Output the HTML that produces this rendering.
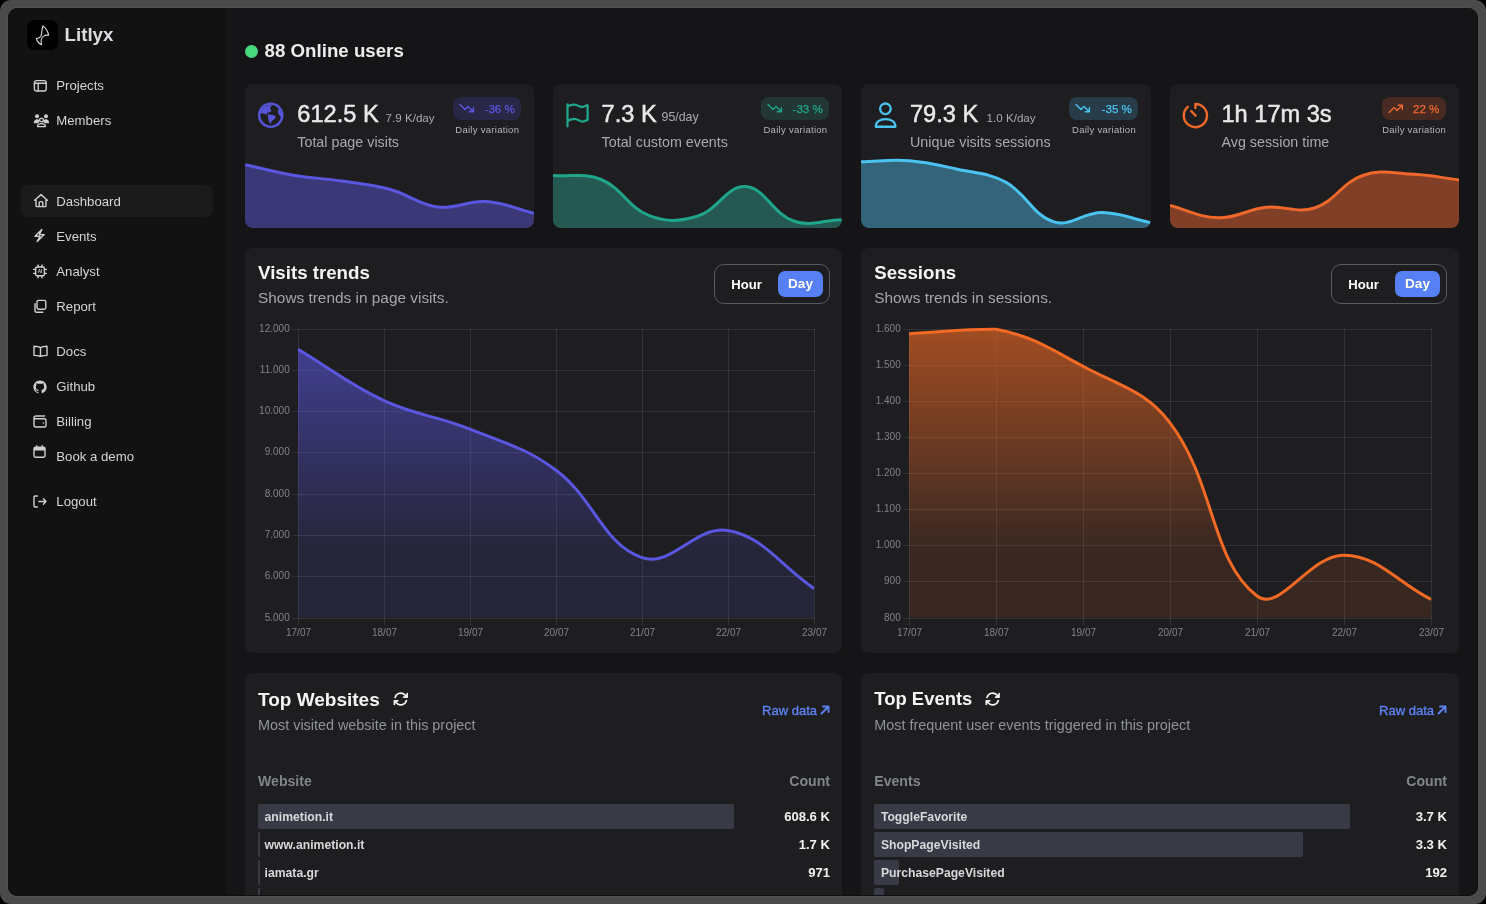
<!DOCTYPE html>
<html><head><meta charset="utf-8"><title>Litlyx</title><style>
*{box-sizing:border-box;margin:0;padding:0}
html,body{width:1486px;height:904px;overflow:hidden;background:#000;font-family:"Liberation Sans",sans-serif}
.frame{position:absolute;left:0;top:0;width:1486px;height:904px;background:#4a4a4a;border-radius:11px}
.inner{position:absolute;left:8px;top:8px;width:1470px;height:888px;border-radius:10px;overflow:hidden;background:#151517;box-shadow:0 0 0 1px #505050}
.edge{position:absolute;left:8px;top:8px;width:1470px;height:888px;border-radius:10px;box-shadow:inset 1px 0 #0f0f0f,inset -1px 0 #0f0f0f,inset 0 -1px #0f0f0f}
.pc{position:absolute;left:-8px;top:-8px;width:1486px;height:904px;will-change:transform}
.a{position:absolute;display:block}
.t{position:absolute;line-height:1;white-space:nowrap}
</style></head><body>
<div class="frame"></div>
<div class="inner"><div class="pc">
<div class="a" style="left:8px;top:8px;width:218px;height:888px;background:#121212;"></div>
<div class="a" style="left:27px;top:20px;width:31px;height:30px;background:#000;border-radius:7px;"></div>
<svg class="a" style="left:27px;top:20px;" width="31" height="30" viewBox="0 0 31 30" fill="none"><path d="M15.8 6.0 C18.4 7.6 20.8 11.2 21.7 15.2 C19.8 15.0 17.8 15.4 16.4 16.4 C15.2 17.2 14.4 18.4 14.2 20 C14 21.6 14.2 23.4 14.6 24.8 C12.4 24 10.4 21.8 9.3 18.5 C11 18.2 13 17.8 13.8 16.4 C14.8 14.4 14.8 9.6 15.8 6.0Z" stroke="#d6d6d6" stroke-width="1.1" stroke-linejoin="round"/></svg>
<div class="t" style="left:64.60px;top:25.57px;font-size:18.7px;font-weight:700;color:#dddde2;">Litlyx</div>
<div class="a" style="left:21px;top:185px;width:192px;height:32px;background:#1b1b1b;border-radius:7px;"></div>
<div class="t" style="left:56.30px;top:78.53px;font-size:13.2px;color:#d4d4d4;">Projects</div>
<div class="t" style="left:56.30px;top:113.53px;font-size:13.2px;color:#d4d4d4;">Members</div>
<div class="t" style="left:56.30px;top:195.03px;font-size:13.2px;color:#d4d4d4;">Dashboard</div>
<div class="t" style="left:56.30px;top:229.73px;font-size:13.2px;color:#d4d4d4;">Events</div>
<div class="t" style="left:56.30px;top:264.83px;font-size:13.2px;color:#d4d4d4;">Analyst</div>
<div class="t" style="left:56.30px;top:299.93px;font-size:13.2px;color:#d4d4d4;">Report</div>
<div class="t" style="left:56.30px;top:344.63px;font-size:13.2px;color:#d4d4d4;">Docs</div>
<div class="t" style="left:56.30px;top:380.13px;font-size:13.2px;color:#d4d4d4;">Github</div>
<div class="t" style="left:56.30px;top:415.23px;font-size:13.2px;color:#d4d4d4;">Billing</div>
<div class="t" style="left:56.30px;top:450.13px;font-size:13.2px;color:#d4d4d4;">Book a demo</div>
<div class="t" style="left:56.30px;top:494.83px;font-size:13.2px;color:#d4d4d4;">Logout</div>
<svg class="a" style="left:33px;top:79px;" width="15" height="14" viewBox="0 0 15 14" fill="none"><rect x="1.4" y="1.6" width="11.8" height="10.4" rx="2" stroke="#cfcfcf" stroke-width="1.4" stroke-linecap="round" stroke-linejoin="round"/><path d="M1.4 4.2H13.2M5.2 4.2V12" stroke="#cfcfcf" stroke-width="1.4" stroke-linecap="round" stroke-linejoin="round"/></svg>
<svg class="a" style="left:33px;top:113px;" width="17" height="15" viewBox="0 0 17 15" fill="none"><circle cx="4" cy="3.2" r="2" fill="#cfcfcf"/><circle cx="13" cy="3.2" r="2" fill="#cfcfcf"/><path d="M0.8 10.2C0.8 7.4 2.4 6.2 4 6.2C5.2 6.2 6 6.8 6.4 7.6L5.6 10.2Z" fill="#cfcfcf"/><path d="M16.2 10.2C16.2 7.4 14.6 6.2 13 6.2C11.8 6.2 11 6.8 10.6 7.6L11.4 10.2Z" fill="#cfcfcf"/><circle cx="8.5" cy="7" r="1.9" stroke="#cfcfcf" stroke-width="1.4" stroke-linecap="round" stroke-linejoin="round"/><path d="M4.6 13.6C4.6 11.6 6.4 10.6 8.5 10.6C10.6 10.6 12.4 11.6 12.4 13.6Z" stroke="#cfcfcf" stroke-width="1.4" stroke-linecap="round" stroke-linejoin="round"/></svg>
<svg class="a" style="left:33px;top:193px;" width="16" height="15" viewBox="0 0 16 15" fill="none"><path d="M1.6 7.2L8 1.6L14.4 7.2M3 6V12.8C3 13.3 3.3 13.6 3.8 13.6H12.2C12.7 13.6 13 13.3 13 12.8V6M6.2 13.6V9.6C6.2 9 6.6 8.6 7.2 8.6H8.8C9.4 8.6 9.8 9 9.8 9.6V13.6" stroke="#cfcfcf" stroke-width="1.4" stroke-linecap="round" stroke-linejoin="round"/></svg>
<svg class="a" style="left:33px;top:228px;" width="13" height="15" viewBox="0 0 13 15" fill="none"><path d="M8.8 1.4L2 8.2H7L4.2 13.6L11.2 6.6H6.4Z" stroke="#cfcfcf" stroke-width="1.4" stroke-linecap="round" stroke-linejoin="round"/></svg>
<svg class="a" style="left:33px;top:264px;" width="14" height="15" viewBox="0 0 14 15" fill="none"><rect x="2.6" y="3" width="8.8" height="8.8" rx="1.6" stroke="#cfcfcf" stroke-width="1.4" stroke-linecap="round" stroke-linejoin="round"/><path d="M0.6 5.4H2.6M0.6 9.4H2.6M11.4 5.4H13.4M11.4 9.4H13.4M5 1V3M9 1V3M5 11.8V13.8M9 11.8V13.8" stroke="#cfcfcf" stroke-width="1.4" stroke-linecap="round" stroke-linejoin="round"/><text x="7" y="9.4" font-size="4.6" font-weight="700" fill="#cfcfcf" text-anchor="middle" font-family="Liberation Sans">AI</text></svg>
<svg class="a" style="left:33px;top:299px;" width="14" height="15" viewBox="0 0 14 15" fill="none"><rect x="4" y="1.4" width="8.8" height="8.8" rx="1.6" stroke="#cfcfcf" stroke-width="1.4" stroke-linecap="round" stroke-linejoin="round"/><path d="M2 4.6V11.4C2 12.6 2.6 13.2 3.8 13.2H9.8" stroke="#cfcfcf" stroke-width="1.4" stroke-linecap="round" stroke-linejoin="round"/></svg>
<svg class="a" style="left:33px;top:345px;" width="15" height="12" viewBox="0 0 15 12" fill="none"><path d="M7.5 2.6C6.2 1.6 4.2 1.2 1 1.2V10.4C4.2 10.4 6.2 10.8 7.5 11.6C8.8 10.8 10.8 10.4 14 10.4V1.2C10.8 1.2 8.8 1.6 7.5 2.6ZM7.5 2.6V11.4" stroke="#cfcfcf" stroke-width="1.4" stroke-linecap="round" stroke-linejoin="round"/></svg>
<svg class="a" style="left:33px;top:379.5px;" width="14" height="14" viewBox="0 0 14 14" fill="none"><path fill="#cfcfcf" d="M7 0.4C3.3 0.4 0.4 3.3 0.4 7c0 2.9 1.9 5.4 4.5 6.3.3.1.5-.1.5-.3v-1.2c-1.8.4-2.2-.8-2.2-.8-.3-.8-.7-1-.7-1-.6-.4 0-.4 0-.4.7 0 1 .7 1 .7.6 1 1.5.7 1.9.5.1-.4.2-.7.4-.9-1.5-.2-3-.7-3-3.2 0-.7.3-1.3.7-1.8-.1-.2-.3-.8.1-1.7 0 0 .6-.2 1.8.7.5-.1 1.1-.2 1.6-.2s1.1.1 1.6.2c1.3-.9 1.8-.7 1.8-.7.4.9.1 1.5.1 1.7.4.5.7 1.1.7 1.8 0 2.5-1.5 3-3 3.2.2.2.5.6.5 1.2v1.8c0 .2.1.4.5.3 2.6-.9 4.5-3.4 4.5-6.3C13.6 3.3 10.7 0.4 7 0.4Z"/></svg>
<svg class="a" style="left:33px;top:415px;" width="14" height="13" viewBox="0 0 14 13" fill="none"><path d="M11.6 1H3C1.8 1 1 1.8 1 3V10C1 11.2 1.8 12 3 12H11.4C12.4 12 13 11.4 13 10.4V5.4C13 4.4 12.4 3.8 11.4 3.8H1.4" stroke="#cfcfcf" stroke-width="1.4" stroke-linecap="round" stroke-linejoin="round"/><circle cx="10.4" cy="8" r="0.8" fill="#cfcfcf"/></svg>
<svg class="a" style="left:33px;top:444.5px;" width="13" height="13" viewBox="0 0 13 13" fill="none"><path d="M1 3.6C1 2.8 1.6 2.2 2.4 2.2H10.6C11.4 2.2 12 2.8 12 3.6V5.4H1Z" fill="#cfcfcf"/><rect x="1" y="2.2" width="11" height="10" rx="1.4" stroke="#cfcfcf" stroke-width="1.4" stroke-linecap="round" stroke-linejoin="round"/><path d="M3.8 0.8V2.6M9.2 0.8V2.6" stroke="#cfcfcf" stroke-width="1.4" stroke-linecap="round" stroke-linejoin="round"/></svg>
<svg class="a" style="left:33px;top:495px;" width="14" height="13" viewBox="0 0 14 13" fill="none"><path d="M4.4 1H2.2C1.5 1 1 1.5 1 2.2V10.8C1 11.5 1.5 12 2.2 12H4.4M5.8 6.5H13M10.4 3.8L13 6.5L10.4 9.2" stroke="#cfcfcf" stroke-width="1.4" stroke-linecap="round" stroke-linejoin="round"/></svg>
<div class="a" style="left:245px;top:45.2px;width:13px;height:13px;border-radius:50%;background:#46d97e"></div>
<div class="t" style="left:264.60px;top:42.27px;font-size:18.7px;font-weight:700;color:#ededef;">88 Online users</div>
<div class="a" style="left:245px;top:84px;width:289.2px;height:144px;background:#1e1e21;border-radius:8px;overflow:hidden"><svg class="a" style="left:0;top:0" width="289.2" height="144" viewBox="245 84 289.2 144"><path d="M245.00 164.70 C264.28 168.88 273.77 171.87 293.20 175.15 C312.33 178.37 322.19 178.12 341.40 180.94 C360.75 183.78 370.79 184.19 389.60 189.29 C409.35 194.64 417.97 204.54 437.80 207.06 C456.53 209.45 466.94 200.33 486.00 201.56 C505.50 202.82 514.92 208.61 534.20 213.31 L537.2 213.30539428571427 L537.2 230 L242.0 230 L242.0 164.7020114285714 Z" fill="#3b3878"/><path d="M245.00 164.70 C264.28 168.88 273.77 171.87 293.20 175.15 C312.33 178.37 322.19 178.12 341.40 180.94 C360.75 183.78 370.79 184.19 389.60 189.29 C409.35 194.64 417.97 204.54 437.80 207.06 C456.53 209.45 466.94 200.33 486.00 201.56 C505.50 202.82 514.92 208.61 534.20 213.31" stroke="#5a56e0" stroke-width="3" fill="none" stroke-linecap="butt"/></svg></div>
<svg class="a" style="left:256px;top:100px;" width="30" height="30" viewBox="0 0 30 30" fill="none"><circle cx="14.75" cy="15.25" r="11.6" stroke="#5655d7" stroke-width="2.35"/><path d="M4.4 12.8 C5.4 13.2 6.2 13.3 7 13.5 C8.4 13.8 9.6 14.3 10.8 14.7 C11.2 14 11 13.2 11.6 12.8 C12.4 12.4 13.4 12.4 14.2 12 C15 11.6 15.6 10.8 15 10 C14.4 9.4 14 8.6 14.3 7.6 C14.6 6.6 15.6 6 16.4 5.2 A10.5 10.5 0 0 0 4.4 12.8Z" fill="#5655d7"/><path d="M11.6 15 C12.2 16.2 12 17.8 12.3 19.2 C12.6 20.8 13.6 22.2 14.4 24.3 C15 22.8 15.2 21.6 16.2 20.8 C17.4 19.8 19 19 19.6 17.6 C19.8 16.4 19 15.6 17.8 15.2 C16.4 14.8 14.8 15 13.4 14.4 C12.8 14.2 12.2 14.4 11.6 15Z" fill="#5655d7"/><path d="M23 8.4 C22.2 9.2 22 10.2 22 11.2 C21.8 12.4 22.2 13.4 23 14.4 C23.8 15.4 24.4 16.4 25 17.4 A10.5 10.5 0 0 0 23 8.4Z" fill="#5655d7"/></svg>
<div class="t" style="left:297.30px;top:103.22px;font-size:23.6px;color:#e8e8ea;-webkit-text-stroke:0.5px #e8e8ea;">612.5 K</div>
<div class="t" style="left:385.60px;top:111.88px;font-size:11.6px;color:#a9abb0;">7.9 K/day</div>
<div class="t" style="left:297.30px;top:134.90px;font-size:14.3px;color:#a6a9ae;">Total page visits</div>
<div class="a" style="left:453px;top:96.8px;width:68.20000000000005px;height:22.8px;background:#282746;border-radius:8px;"></div>
<svg class="a" style="left:459px;top:102.6px;" width="16" height="11" viewBox="0 0 16 11" fill="none"><path d="M1 1.4L6 6.4L9 3.4L14.4 8.8M14.4 8.8V4.6M14.4 8.8H10.2" stroke="#5a56e0" stroke-width="1.4" stroke-linecap="round" stroke-linejoin="round"/></svg>
<div class="t" style="right:971.20px;top:102.58px;font-size:11.6px;color:#5a56e0;text-align:right;-webkit-text-stroke:0.25px #5a56e0;">-36 %</div>
<div class="t" style="left:442.25px;width:90px;text-align:center;top:124.76px;font-size:9.5px;color:#b4b6ba;letter-spacing:0.29px;">Daily variation</div>
<div class="a" style="left:553.3px;top:84px;width:288.6px;height:144px;background:#1e1e21;border-radius:8px;overflow:hidden"><svg class="a" style="left:0;top:0" width="288.6" height="144" viewBox="553.3 84 288.6 144"><path d="M553.30 175.50 C572.54 177.10 584.27 172.36 601.40 179.50 C622.75 188.40 628.12 207.42 649.50 215.60 C666.60 222.14 679.91 221.63 697.60 216.30 C718.39 210.03 726.89 185.68 745.70 186.60 C765.37 187.56 772.58 213.68 793.80 221.00 C811.06 226.96 822.66 220.28 841.90 219.80 L844.9 219.8 L844.9 230 L550.3 230 L550.3 175.5 Z" fill="#255850"/><path d="M553.30 175.50 C572.54 177.10 584.27 172.36 601.40 179.50 C622.75 188.40 628.12 207.42 649.50 215.60 C666.60 222.14 679.91 221.63 697.60 216.30 C718.39 210.03 726.89 185.68 745.70 186.60 C765.37 187.56 772.58 213.68 793.80 221.00 C811.06 226.96 822.66 220.28 841.90 219.80" stroke="#1ea58a" stroke-width="3" fill="none" stroke-linecap="butt"/></svg></div>
<svg class="a" style="left:562px;top:100px;" width="30" height="30" viewBox="0 0 30 30" fill="none"><path d="M5.5 26.3V4.3M5.5 6.3C7.8 5.2 10.2 4.5 12.6 4.6C15.3 4.8 17.3 7 19.9 7C22 7 23.7 5.6 25.6 5.1V19.9C23.8 20.5 22.4 21.6 20.6 21.6C17.8 21.6 15.6 18.9 12.6 18.9C10 18.9 7.6 19.9 5.5 20.9" stroke="#1ea58a" stroke-width="2.3" stroke-linecap="round" stroke-linejoin="round"/></svg>
<div class="t" style="left:601.60px;top:103.22px;font-size:23.6px;color:#e8e8ea;-webkit-text-stroke:0.5px #e8e8ea;">7.3 K</div>
<div class="t" style="left:661.50px;top:111.20px;font-size:12.4px;color:#a9abb0;">95/day</div>
<div class="t" style="left:601.60px;top:134.90px;font-size:14.3px;color:#a6a9ae;">Total custom events</div>
<div class="a" style="left:761.4px;top:96.8px;width:67.80000000000007px;height:22.8px;background:#223734;border-radius:8px;"></div>
<svg class="a" style="left:767.4px;top:102.6px;" width="16" height="11" viewBox="0 0 16 11" fill="none"><path d="M1 1.4L6 6.4L9 3.4L14.4 8.8M14.4 8.8V4.6M14.4 8.8H10.2" stroke="#1ea58a" stroke-width="1.4" stroke-linecap="round" stroke-linejoin="round"/></svg>
<div class="t" style="right:663.20px;top:102.58px;font-size:11.6px;color:#1ea58a;text-align:right;-webkit-text-stroke:0.25px #1ea58a;">-33 %</div>
<div class="t" style="left:750.45px;width:90px;text-align:center;top:124.76px;font-size:9.5px;color:#b4b6ba;letter-spacing:0.29px;">Daily variation</div>
<div class="a" style="left:861.3px;top:84px;width:289.3px;height:144px;background:#1e1e21;border-radius:8px;overflow:hidden"><svg class="a" style="left:0;top:0" width="289.3" height="144" viewBox="861.3 84 289.3 144"><path d="M861.30 161.78 C880.59 161.37 890.37 159.29 909.52 160.77 C928.95 162.27 938.64 165.00 957.73 169.24 C977.21 173.57 988.81 172.84 1005.95 182.19 C1027.39 193.88 1032.58 215.07 1054.17 221.86 C1071.15 227.20 1083.13 212.36 1102.38 212.51 C1121.70 212.67 1131.31 218.59 1150.60 222.64 L1153.6 222.63937716262973 L1153.6 230 L858.3 230 L858.3 161.77660899653978 Z" fill="#34647a"/><path d="M861.30 161.78 C880.59 161.37 890.37 159.29 909.52 160.77 C928.95 162.27 938.64 165.00 957.73 169.24 C977.21 173.57 988.81 172.84 1005.95 182.19 C1027.39 193.88 1032.58 215.07 1054.17 221.86 C1071.15 227.20 1083.13 212.36 1102.38 212.51 C1121.70 212.67 1131.31 218.59 1150.60 222.64" stroke="#4ac3f0" stroke-width="3" fill="none" stroke-linecap="butt"/></svg></div>
<svg class="a" style="left:870px;top:100px;" width="30" height="30" viewBox="0 0 30 30" fill="none"><circle cx="15.4" cy="8.8" r="5.3" stroke="#4ac3f0" stroke-width="2.3"/><path d="M5.8 26.75C5.8 22 9.8 19.05 15.6 19.05C21.4 19.05 25.4 22 25.4 26.75Z" stroke="#4ac3f0" stroke-width="2.3" stroke-linejoin="round"/></svg>
<div class="t" style="left:910.00px;top:103.22px;font-size:23.6px;color:#e8e8ea;-webkit-text-stroke:0.5px #e8e8ea;">79.3 K</div>
<div class="t" style="left:986.60px;top:111.88px;font-size:11.6px;color:#a9abb0;">1.0 K/day</div>
<div class="t" style="left:910.00px;top:134.90px;font-size:14.3px;color:#a6a9ae;">Unique visits sessions</div>
<div class="a" style="left:1069.4px;top:96.8px;width:68.89999999999986px;height:22.8px;background:#273c48;border-radius:8px;"></div>
<svg class="a" style="left:1075.4px;top:102.6px;" width="16" height="11" viewBox="0 0 16 11" fill="none"><path d="M1 1.4L6 6.4L9 3.4L14.4 8.8M14.4 8.8V4.6M14.4 8.8H10.2" stroke="#4ac3f0" stroke-width="1.4" stroke-linecap="round" stroke-linejoin="round"/></svg>
<div class="t" style="right:354.10px;top:102.58px;font-size:11.6px;color:#4ac3f0;text-align:right;-webkit-text-stroke:0.25px #4ac3f0;">-35 %</div>
<div class="t" style="left:1059.00px;width:90px;text-align:center;top:124.76px;font-size:9.5px;color:#b4b6ba;letter-spacing:0.29px;">Daily variation</div>
<div class="a" style="left:1170px;top:84px;width:289px;height:144px;background:#1e1e21;border-radius:8px;overflow:hidden"><svg class="a" style="left:0;top:0" width="289" height="144" viewBox="1170 84 289 144"><path d="M1170.00 205.40 C1189.27 210.36 1198.81 217.42 1218.17 217.80 C1237.35 218.18 1246.84 209.28 1266.33 207.30 C1285.38 205.36 1297.03 213.77 1314.50 208.00 C1335.57 201.05 1341.60 182.93 1362.67 175.50 C1380.14 169.33 1391.63 173.12 1410.83 174.00 C1430.17 174.88 1439.73 177.54 1459.00 179.90 L1462.0 179.9 L1462.0 230 L1167.0 230 L1167.0 205.4 Z" fill="#813f27"/><path d="M1170.00 205.40 C1189.27 210.36 1198.81 217.42 1218.17 217.80 C1237.35 218.18 1246.84 209.28 1266.33 207.30 C1285.38 205.36 1297.03 213.77 1314.50 208.00 C1335.57 201.05 1341.60 182.93 1362.67 175.50 C1380.14 169.33 1391.63 173.12 1410.83 174.00 C1430.17 174.88 1439.73 177.54 1459.00 179.90" stroke="#f0692a" stroke-width="3" fill="none" stroke-linecap="butt"/></svg></div>
<svg class="a" style="left:1180px;top:100px;" width="30" height="30" viewBox="0 0 30 30" fill="none"><path d="M15.4 8V4A11.6 11.6 0 1 1 7.8 6.84" stroke="#f0692a" stroke-width="2.4" stroke-linecap="round" stroke-linejoin="round"/><path d="M11.2 11.2L15.6 15.6" stroke="#f0692a" stroke-width="2.4" stroke-linecap="round"/></svg>
<div class="t" style="left:1221.50px;top:103.22px;font-size:23.6px;color:#e8e8ea;-webkit-text-stroke:0.5px #e8e8ea;">1h 17m 3s</div>
<div class="t" style="left:1221.50px;top:134.90px;font-size:14.3px;color:#a6a9ae;">Avg session time</div>
<div class="a" style="left:1382.2px;top:96.8px;width:63.59999999999991px;height:22.8px;background:#472a21;border-radius:8px;"></div>
<svg class="a" style="left:1388.2px;top:102.6px;" width="16" height="11" viewBox="0 0 16 11" fill="none"><path d="M1 9.6L6 4.6L9 7.6L14.4 2.2M14.4 2.2V6.4M14.4 2.2H10.2" stroke="#f0692a" stroke-width="1.4" stroke-linecap="round" stroke-linejoin="round"/></svg>
<div class="t" style="right:46.60px;top:102.58px;font-size:11.6px;color:#f0692a;text-align:right;-webkit-text-stroke:0.25px #f0692a;">22 %</div>
<div class="t" style="left:1369.15px;width:90px;text-align:center;top:124.76px;font-size:9.5px;color:#b4b6ba;letter-spacing:0.29px;">Daily variation</div>
<div class="a" style="left:245px;top:248px;width:597.4px;height:405px;background:#1e1e21;border-radius:8px;"></div>
<div class="a" style="left:861.2px;top:248px;width:597.8px;height:405px;background:#1e1e21;border-radius:8px;"></div>
<div class="t" style="left:258.00px;top:263.97px;font-size:18.7px;font-weight:700;color:#f4f4f5;">Visits trends</div>
<div class="t" style="left:258.00px;top:289.86px;font-size:15.4px;color:#a3a6ab;">Shows trends in page visits.</div>
<div class="t" style="left:874.20px;top:263.97px;font-size:18.7px;font-weight:700;color:#f4f4f5;">Sessions</div>
<div class="t" style="left:874.20px;top:289.86px;font-size:15.4px;color:#a3a6ab;">Shows trends in sessions.</div>
<div class="a" style="left:714px;top:264px;width:116px;height:40px;border:1px solid #5a5a5e;border-radius:10px"></div>
<div class="a" style="left:778px;top:271px;width:45px;height:26px;background:#5680f3;border-radius:7px;"></div>
<div class="t" style="left:731.30px;top:277.61px;font-size:13.1px;font-weight:700;color:#ffffff;">Hour</div>
<div class="t" style="left:778.00px;width:45px;text-align:center;top:277.19px;font-size:13.6px;font-weight:700;color:#ffffff;">Day</div>
<div class="a" style="left:1331px;top:264px;width:116px;height:40px;border:1px solid #5a5a5e;border-radius:10px"></div>
<div class="a" style="left:1395px;top:271px;width:45px;height:26px;background:#5680f3;border-radius:7px;"></div>
<div class="t" style="left:1348.30px;top:277.61px;font-size:13.1px;font-weight:700;color:#ffffff;">Hour</div>
<div class="t" style="left:1395.00px;width:45px;text-align:center;top:277.19px;font-size:13.6px;font-weight:700;color:#ffffff;">Day</div>
<svg class="a" style="left:245px;top:319.0px;" width="579.0" height="309.0" viewBox="245 319.0 579.0 309.0" fill="none"><defs><linearGradient id="g1" x1="0" y1="329.0" x2="0" y2="550" gradientUnits="userSpaceOnUse"><stop offset="0" stop-color="rgba(90,86,224,0.62)"/><stop offset="1" stop-color="rgba(90,86,224,0.13)"/></linearGradient><clipPath id="g1c"><rect x="297.5" y="326.5" width="517.0" height="292.0"/></clipPath></defs><path d="M292.0 329.5H815.0" stroke="rgba(255,255,255,0.09)" stroke-width="1"/><path d="M292.0 370.5H815.0" stroke="rgba(255,255,255,0.09)" stroke-width="1"/><path d="M292.0 411.5H815.0" stroke="rgba(255,255,255,0.09)" stroke-width="1"/><path d="M292.0 452.5H815.0" stroke="rgba(255,255,255,0.09)" stroke-width="1"/><path d="M292.0 494.5H815.0" stroke="rgba(255,255,255,0.09)" stroke-width="1"/><path d="M292.0 535.5H815.0" stroke="rgba(255,255,255,0.09)" stroke-width="1"/><path d="M292.0 576.5H815.0" stroke="rgba(255,255,255,0.09)" stroke-width="1"/><path d="M292.0 618.5H815.0" stroke="rgba(255,255,255,0.09)" stroke-width="1"/><path d="M298.5 329.0V625.0" stroke="rgba(255,255,255,0.09)" stroke-width="1"/><path d="M384.5 329.0V625.0" stroke="rgba(255,255,255,0.09)" stroke-width="1"/><path d="M470.5 329.0V625.0" stroke="rgba(255,255,255,0.09)" stroke-width="1"/><path d="M556.5 329.0V625.0" stroke="rgba(255,255,255,0.09)" stroke-width="1"/><path d="M642.5 329.0V625.0" stroke="rgba(255,255,255,0.09)" stroke-width="1"/><path d="M728.5 329.0V625.0" stroke="rgba(255,255,255,0.09)" stroke-width="1"/><path d="M814.5 329.0V625.0" stroke="rgba(255,255,255,0.09)" stroke-width="1"/><g clip-path="url(#g1c)"><path d="M298.00 349.20 C332.40 369.76 347.87 383.82 384.00 400.60 C416.67 415.78 436.47 415.53 470.00 429.10 C505.27 443.37 525.92 447.71 556.00 470.20 C594.72 499.15 602.34 543.77 642.00 557.70 C671.14 567.93 695.99 524.89 728.00 530.60 C764.79 537.17 779.60 565.28 814.00 588.40 L814.0 617.5 L298.0 617.5 Z" fill="url(#g1)"/><path d="M298.00 349.20 C332.40 369.76 347.87 383.82 384.00 400.60 C416.67 415.78 436.47 415.53 470.00 429.10 C505.27 443.37 525.92 447.71 556.00 470.20 C594.72 499.15 602.34 543.77 642.00 557.70 C671.14 567.93 695.99 524.89 728.00 530.60 C764.79 537.17 779.60 565.28 814.00 588.40" stroke="#5a56e0" stroke-width="3" fill="none"/></g></svg>
<div class="t" style="right:1196.30px;top:324.44px;font-size:10px;color:#838386;text-align:right;">12.000</div>
<div class="t" style="right:1196.30px;top:365.44px;font-size:10px;color:#838386;text-align:right;">11.000</div>
<div class="t" style="right:1196.30px;top:406.44px;font-size:10px;color:#838386;text-align:right;">10.000</div>
<div class="t" style="right:1196.30px;top:447.44px;font-size:10px;color:#838386;text-align:right;">9.000</div>
<div class="t" style="right:1196.30px;top:489.44px;font-size:10px;color:#838386;text-align:right;">8.000</div>
<div class="t" style="right:1196.30px;top:530.43px;font-size:10px;color:#838386;text-align:right;">7.000</div>
<div class="t" style="right:1196.30px;top:571.43px;font-size:10px;color:#838386;text-align:right;">6.000</div>
<div class="t" style="right:1196.30px;top:613.43px;font-size:10px;color:#838386;text-align:right;">5.000</div>
<div class="t" style="left:278.50px;width:40px;text-align:center;top:627.53px;font-size:10px;color:#838386;">17/07</div>
<div class="t" style="left:364.50px;width:40px;text-align:center;top:627.53px;font-size:10px;color:#838386;">18/07</div>
<div class="t" style="left:450.50px;width:40px;text-align:center;top:627.53px;font-size:10px;color:#838386;">19/07</div>
<div class="t" style="left:536.50px;width:40px;text-align:center;top:627.53px;font-size:10px;color:#838386;">20/07</div>
<div class="t" style="left:622.50px;width:40px;text-align:center;top:627.53px;font-size:10px;color:#838386;">21/07</div>
<div class="t" style="left:708.50px;width:40px;text-align:center;top:627.53px;font-size:10px;color:#838386;">22/07</div>
<div class="t" style="left:794.50px;width:40px;text-align:center;top:627.53px;font-size:10px;color:#838386;">23/07</div>
<svg class="a" style="left:862px;top:319.0px;" width="579.0" height="309.0" viewBox="862 319.0 579.0 309.0" fill="none"><defs><linearGradient id="g2" x1="0" y1="329.0" x2="0" y2="550" gradientUnits="userSpaceOnUse"><stop offset="0" stop-color="rgba(242,106,36,0.62)"/><stop offset="1" stop-color="rgba(242,106,36,0.125)"/></linearGradient><clipPath id="g2c"><rect x="908.5" y="326.5" width="523.0" height="292.0"/></clipPath></defs><path d="M903.0 329.5H1432.0" stroke="rgba(255,255,255,0.09)" stroke-width="1"/><path d="M903.0 365.5H1432.0" stroke="rgba(255,255,255,0.09)" stroke-width="1"/><path d="M903.0 401.5H1432.0" stroke="rgba(255,255,255,0.09)" stroke-width="1"/><path d="M903.0 437.5H1432.0" stroke="rgba(255,255,255,0.09)" stroke-width="1"/><path d="M903.0 473.5H1432.0" stroke="rgba(255,255,255,0.09)" stroke-width="1"/><path d="M903.0 509.5H1432.0" stroke="rgba(255,255,255,0.09)" stroke-width="1"/><path d="M903.0 545.5H1432.0" stroke="rgba(255,255,255,0.09)" stroke-width="1"/><path d="M903.0 581.5H1432.0" stroke="rgba(255,255,255,0.09)" stroke-width="1"/><path d="M903.0 618.5H1432.0" stroke="rgba(255,255,255,0.09)" stroke-width="1"/><path d="M909.5 329.0V625.0" stroke="rgba(255,255,255,0.09)" stroke-width="1"/><path d="M996.5 329.0V625.0" stroke="rgba(255,255,255,0.09)" stroke-width="1"/><path d="M1083.5 329.0V625.0" stroke="rgba(255,255,255,0.09)" stroke-width="1"/><path d="M1170.5 329.0V625.0" stroke="rgba(255,255,255,0.09)" stroke-width="1"/><path d="M1257.5 329.0V625.0" stroke="rgba(255,255,255,0.09)" stroke-width="1"/><path d="M1344.5 329.0V625.0" stroke="rgba(255,255,255,0.09)" stroke-width="1"/><path d="M1431.5 329.0V625.0" stroke="rgba(255,255,255,0.09)" stroke-width="1"/><g clip-path="url(#g2c)"><path d="M909.00 333.70 C943.80 331.94 962.62 329.00 996.00 329.30 C1032.22 336.09 1049.81 348.47 1083.00 366.30 C1119.41 385.87 1145.74 390.77 1170.00 422.80 C1215.34 482.65 1210.47 560.59 1257.00 596.00 C1280.07 613.55 1309.47 554.53 1344.00 555.20 C1379.07 555.89 1396.20 581.72 1431.00 599.40 L1431.0 617.5 L909.0 617.5 Z" fill="url(#g2)"/><path d="M909.00 333.70 C943.80 331.94 962.62 329.00 996.00 329.30 C1032.22 336.09 1049.81 348.47 1083.00 366.30 C1119.41 385.87 1145.74 390.77 1170.00 422.80 C1215.34 482.65 1210.47 560.59 1257.00 596.00 C1280.07 613.55 1309.47 554.53 1344.00 555.20 C1379.07 555.89 1396.20 581.72 1431.00 599.40" stroke="#f26a24" stroke-width="3" fill="none"/></g></svg>
<div class="t" style="right:585.30px;top:324.44px;font-size:10px;color:#838386;text-align:right;">1.600</div>
<div class="t" style="right:585.30px;top:360.44px;font-size:10px;color:#838386;text-align:right;">1.500</div>
<div class="t" style="right:585.30px;top:396.44px;font-size:10px;color:#838386;text-align:right;">1.400</div>
<div class="t" style="right:585.30px;top:432.44px;font-size:10px;color:#838386;text-align:right;">1.300</div>
<div class="t" style="right:585.30px;top:468.44px;font-size:10px;color:#838386;text-align:right;">1.200</div>
<div class="t" style="right:585.30px;top:504.44px;font-size:10px;color:#838386;text-align:right;">1.100</div>
<div class="t" style="right:585.30px;top:540.43px;font-size:10px;color:#838386;text-align:right;">1.000</div>
<div class="t" style="right:585.30px;top:576.43px;font-size:10px;color:#838386;text-align:right;">900</div>
<div class="t" style="right:585.30px;top:613.43px;font-size:10px;color:#838386;text-align:right;">800</div>
<div class="t" style="left:889.50px;width:40px;text-align:center;top:627.53px;font-size:10px;color:#838386;">17/07</div>
<div class="t" style="left:976.50px;width:40px;text-align:center;top:627.53px;font-size:10px;color:#838386;">18/07</div>
<div class="t" style="left:1063.50px;width:40px;text-align:center;top:627.53px;font-size:10px;color:#838386;">19/07</div>
<div class="t" style="left:1150.50px;width:40px;text-align:center;top:627.53px;font-size:10px;color:#838386;">20/07</div>
<div class="t" style="left:1237.50px;width:40px;text-align:center;top:627.53px;font-size:10px;color:#838386;">21/07</div>
<div class="t" style="left:1324.50px;width:40px;text-align:center;top:627.53px;font-size:10px;color:#838386;">22/07</div>
<div class="t" style="left:1411.50px;width:40px;text-align:center;top:627.53px;font-size:10px;color:#838386;">23/07</div>
<div class="a" style="left:245px;top:673px;width:597.4px;height:260px;background:#1e1e21;border-radius:8px;"></div>
<div class="a" style="left:861.2px;top:673px;width:597.8px;height:260px;background:#1e1e21;border-radius:8px;"></div>
<div class="t" style="left:258.00px;top:689.82px;font-size:19px;font-weight:700;color:#f4f4f5;">Top Websites</div>
<svg class="a" style="left:0;top:0" width="1486" height="904" viewBox="0 0 1486 904" fill="none"><g transform="translate(392.25 690.44) scale(0.71)"><path d="M16.023 9.348h4.992M21.015 9.348V4.357M2.985 19.644v-4.992h4.992M2.985 14.652l3.181 3.183a8.25 8.25 0 0 0 13.803-3.7M4.031 9.865a8.25 8.25 0 0 1 13.803-3.7l3.181 3.182" stroke="#f4f4f5" stroke-width="2.3" stroke-linecap="round" stroke-linejoin="round"/></g></svg>
<div class="t" style="left:258.00px;top:718.01px;font-size:14.4px;color:#8f939a;">Most visited website in this project</div>
<div class="t" style="right:656.00px;top:703.70px;font-size:13px;color:#5b82f0;text-align:right;padding-right:13px;-webkit-text-stroke:0.35px #5b82f0;">Raw data</div>
<svg class="a" style="left:820px;top:704.5px;" width="10" height="10" viewBox="0 0 10 10" fill="none"><path d="M1.5 8.5L8.5 1.5M3 1.5H8.5V7" stroke="#5b82f0" stroke-width="1.9" stroke-linecap="round" stroke-linejoin="round"/></svg>
<div class="t" style="left:258.00px;top:773.56px;font-size:14.1px;font-weight:700;color:#80858c;">Website</div>
<div class="t" style="right:656.00px;top:773.56px;font-size:14.1px;font-weight:700;color:#80858c;text-align:right;">Count</div>
<div class="a" style="left:258px;top:804.2px;width:476px;height:24.6px;background:#383b46;border-radius:2px;"></div>
<div class="a" style="left:258px;top:832.2px;width:2px;height:24.6px;background:#383b46;border-radius:2px;"></div>
<div class="a" style="left:258px;top:860.2px;width:2px;height:24.6px;background:#383b46;border-radius:2px;"></div>
<div class="a" style="left:258px;top:888.2px;width:2px;height:24.6px;background:#383b46;border-radius:2px;"></div>
<div class="t" style="left:264.60px;top:810.87px;font-size:12.2px;font-weight:700;color:#d8d8da;">animetion.it</div>
<div class="t" style="right:656.00px;top:810.11px;font-size:13.1px;font-weight:700;color:#f0f0f0;text-align:right;">608.6 K</div>
<div class="t" style="left:264.60px;top:838.87px;font-size:12.2px;font-weight:700;color:#d8d8da;">www.animetion.it</div>
<div class="t" style="right:656.00px;top:838.11px;font-size:13.1px;font-weight:700;color:#f0f0f0;text-align:right;">1.7 K</div>
<div class="t" style="left:264.60px;top:866.87px;font-size:12.2px;font-weight:700;color:#d8d8da;">iamata.gr</div>
<div class="t" style="right:656.00px;top:866.11px;font-size:13.1px;font-weight:700;color:#f0f0f0;text-align:right;">971</div>
<div class="t" style="left:874.30px;top:690.28px;font-size:18.45px;font-weight:700;color:#f4f4f5;">Top Events</div>
<svg class="a" style="left:0;top:0" width="1486" height="904" viewBox="0 0 1486 904" fill="none"><g transform="translate(984.15 690.44) scale(0.71)"><path d="M16.023 9.348h4.992M21.015 9.348V4.357M2.985 19.644v-4.992h4.992M2.985 14.652l3.181 3.183a8.25 8.25 0 0 0 13.803-3.7M4.031 9.865a8.25 8.25 0 0 1 13.803-3.7l3.181 3.182" stroke="#f4f4f5" stroke-width="2.3" stroke-linecap="round" stroke-linejoin="round"/></g></svg>
<div class="t" style="left:874.30px;top:718.01px;font-size:14.4px;color:#8f939a;">Most frequent user events triggered in this project</div>
<div class="t" style="right:39.00px;top:703.70px;font-size:13px;color:#5b82f0;text-align:right;padding-right:13px;-webkit-text-stroke:0.35px #5b82f0;">Raw data</div>
<svg class="a" style="left:1437px;top:704.5px;" width="10" height="10" viewBox="0 0 10 10" fill="none"><path d="M1.5 8.5L8.5 1.5M3 1.5H8.5V7" stroke="#5b82f0" stroke-width="1.9" stroke-linecap="round" stroke-linejoin="round"/></svg>
<div class="t" style="left:874.30px;top:773.56px;font-size:14.1px;font-weight:700;color:#80858c;">Events</div>
<div class="t" style="right:39.00px;top:773.56px;font-size:14.1px;font-weight:700;color:#80858c;text-align:right;">Count</div>
<div class="a" style="left:874.3px;top:804.2px;width:476px;height:24.6px;background:#383b46;border-radius:2px;"></div>
<div class="a" style="left:874.3px;top:832.2px;width:429px;height:24.6px;background:#383b46;border-radius:2px;"></div>
<div class="a" style="left:874.3px;top:860.2px;width:25px;height:24.6px;background:#383b46;border-radius:2px;"></div>
<div class="a" style="left:874.3px;top:888.2px;width:10px;height:24.6px;background:#383b46;border-radius:2px;"></div>
<div class="t" style="left:880.90px;top:810.87px;font-size:12.2px;font-weight:700;color:#d8d8da;">ToggleFavorite</div>
<div class="t" style="right:39.00px;top:810.11px;font-size:13.1px;font-weight:700;color:#f0f0f0;text-align:right;">3.7 K</div>
<div class="t" style="left:880.90px;top:838.87px;font-size:12.2px;font-weight:700;color:#d8d8da;">ShopPageVisited</div>
<div class="t" style="right:39.00px;top:838.11px;font-size:13.1px;font-weight:700;color:#f0f0f0;text-align:right;">3.3 K</div>
<div class="t" style="left:880.90px;top:866.87px;font-size:12.2px;font-weight:700;color:#d8d8da;">PurchasePageVisited</div>
<div class="t" style="right:39.00px;top:866.11px;font-size:13.1px;font-weight:700;color:#f0f0f0;text-align:right;">192</div>
</div></div>
<div class="edge"></div>
</body></html>
